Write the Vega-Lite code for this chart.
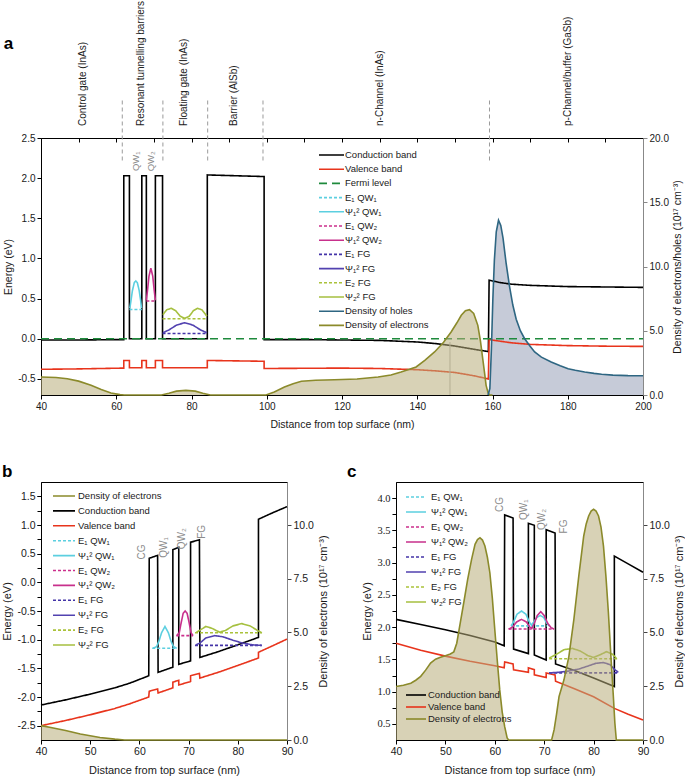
{
 "$schema": "https://vega.github.io/schema/vega-lite/v6.json",
 "padding": {"left": 1, "top": 0, "right": 2, "bottom": 0},
 "spacing": 32,
 "resolve": {"scale": {"color": "independent", "strokeDash": "independent", "stroke": "independent"}},
 "config": {
  "font": "Liberation Sans",
  "view": {"stroke": "#000", "strokeWidth": 1},
  "locale": {"number": {"decimal": ".", "thousands": ",", "grouping": [3], "currency": ["$", ""], "minus": "-"}},
  "axis": {"grid": false, "labelFont": "Liberation Sans", "labelFontSize": 10, "labelColor": "#1a1a1a", "titleFont": "Liberation Sans", "titleFontSize": 10.5, "titleFontWeight": "normal", "titleColor": "#1a1a1a", "tickColor": "#000", "domainColor": "#000", "tickSize": 4, "labelFlush": false, "labelOverlap": false, "labelPadding": 2},
  "title": {"font": "Liberation Sans", "fontSize": 17, "fontWeight": "bold", "anchor": "start", "frame": "bounds", "color": "#000"},
  "legend": {"labelFont": "Liberation Sans", "labelColor": "#1a1a1a", "labelLimit": 250, "padding": 0, "title": null},
  "text": {"font": "Liberation Sans"}
 },
 "datasets": {
  "aL": [
   {"s":"Conduction band","x":40,"y":-0.015},{"s":"Conduction band","x":50,"y":-0.015},{"s":"Conduction band","x":62,"y":-0.01},{"s":"Conduction band","x":62,"y":2.03},{"s":"Conduction band","x":63.5,"y":2.03},{"s":"Conduction band","x":63.5,"y":0},{"s":"Conduction band","x":66.8,"y":0},{"s":"Conduction band","x":66.8,"y":2.03},{"s":"Conduction band","x":68,"y":2.03},{"s":"Conduction band","x":68,"y":0},{"s":"Conduction band","x":70.4,"y":0},{"s":"Conduction band","x":70.4,"y":2.03},{"s":"Conduction band","x":72.3,"y":2.03},{"s":"Conduction band","x":72.3,"y":0},{"s":"Conduction band","x":84.2,"y":0},{"s":"Conduction band","x":84.2,"y":2.04},{"s":"Conduction band","x":99.3,"y":2.02},{"s":"Conduction band","x":99.3,"y":-0.01},{"s":"Conduction band","x":110,"y":-0.01},{"s":"Conduction band","x":120,"y":-0.015},{"s":"Conduction band","x":130,"y":-0.02},{"s":"Conduction band","x":140,"y":-0.04},{"s":"Conduction band","x":145,"y":-0.06},{"s":"Conduction band","x":150,"y":-0.09},{"s":"Conduction band","x":155,"y":-0.13},{"s":"Conduction band","x":158.9,"y":-0.16},{"s":"Conduction band","x":159.1,"y":0.73},{"s":"Conduction band","x":160,"y":0.72},{"s":"Conduction band","x":162,"y":0.7},{"s":"Conduction band","x":165,"y":0.68},{"s":"Conduction band","x":170,"y":0.665},{"s":"Conduction band","x":180,"y":0.65},{"s":"Conduction band","x":190,"y":0.645},{"s":"Conduction band","x":200,"y":0.64},
   {"s":"Valence band","x":40,"y":-0.38},{"s":"Valence band","x":50,"y":-0.375},{"s":"Valence band","x":62,"y":-0.365},{"s":"Valence band","x":62,"y":-0.27},{"s":"Valence band","x":63.5,"y":-0.27},{"s":"Valence band","x":63.5,"y":-0.36},{"s":"Valence band","x":66.8,"y":-0.36},{"s":"Valence band","x":66.8,"y":-0.27},{"s":"Valence band","x":68,"y":-0.27},{"s":"Valence band","x":68,"y":-0.36},{"s":"Valence band","x":70.4,"y":-0.36},{"s":"Valence band","x":70.4,"y":-0.27},{"s":"Valence band","x":72.3,"y":-0.27},{"s":"Valence band","x":72.3,"y":-0.36},{"s":"Valence band","x":84.2,"y":-0.36},{"s":"Valence band","x":84.2,"y":-0.27},{"s":"Valence band","x":99.3,"y":-0.28},{"s":"Valence band","x":99.3,"y":-0.37},{"s":"Valence band","x":120,"y":-0.365},{"s":"Valence band","x":130,"y":-0.37},{"s":"Valence band","x":140,"y":-0.385},{"s":"Valence band","x":145,"y":-0.4},{"s":"Valence band","x":150,"y":-0.42},{"s":"Valence band","x":155,"y":-0.46},{"s":"Valence band","x":158.9,"y":-0.5},{"s":"Valence band","x":159.1,"y":-0.01},{"s":"Valence band","x":162,"y":-0.03},{"s":"Valence band","x":165,"y":-0.05},{"s":"Valence band","x":170,"y":-0.07},{"s":"Valence band","x":180,"y":-0.085},{"s":"Valence band","x":190,"y":-0.092},{"s":"Valence band","x":200,"y":-0.095},
   {"s":"Fermi level","x":40,"y":0},{"s":"Fermi level","x":200,"y":0},
   {"s":"E₁ QW₁","x":63.5,"y":0.365},{"s":"E₁ QW₁","x":66.8,"y":0.365},
   {"s":"Ψ₁² QW₁","x":63.6,"y":0.38},{"s":"Ψ₁² QW₁","x":63.9,"y":0.47},{"s":"Ψ₁² QW₁","x":64.3,"y":0.6},{"s":"Ψ₁² QW₁","x":64.8,"y":0.7},{"s":"Ψ₁² QW₁","x":65.2,"y":0.72},{"s":"Ψ₁² QW₁","x":65.6,"y":0.7},{"s":"Ψ₁² QW₁","x":66.1,"y":0.6},{"s":"Ψ₁² QW₁","x":66.5,"y":0.47},{"s":"Ψ₁² QW₁","x":66.7,"y":0.38},
   {"s":"E₁ QW₂","x":68,"y":0.47},{"s":"E₁ QW₂","x":70.4,"y":0.47},
   {"s":"Ψ₁² QW₂","x":68,"y":0.48},{"s":"Ψ₁² QW₂","x":68.3,"y":0.6},{"s":"Ψ₁² QW₂","x":68.7,"y":0.78},{"s":"Ψ₁² QW₂","x":69.2,"y":0.88},{"s":"Ψ₁² QW₂","x":69.7,"y":0.78},{"s":"Ψ₁² QW₂","x":70.1,"y":0.6},{"s":"Ψ₁² QW₂","x":70.4,"y":0.48},
   {"s":"E₁ FG","x":72.3,"y":0.065},{"s":"E₁ FG","x":84.2,"y":0.065},
   {"s":"Ψ₁² FG","x":72.4,"y":0.075},{"s":"Ψ₁² FG","x":74,"y":0.11},{"s":"Ψ₁² FG","x":76,"y":0.17},{"s":"Ψ₁² FG","x":78.2,"y":0.2},{"s":"Ψ₁² FG","x":80.4,"y":0.17},{"s":"Ψ₁² FG","x":82.4,"y":0.11},{"s":"Ψ₁² FG","x":84.1,"y":0.075},
   {"s":"E₂ FG","x":72.3,"y":0.25},{"s":"E₂ FG","x":84.2,"y":0.25},
   {"s":"Ψ₂² FG","x":72.4,"y":0.3},{"s":"Ψ₂² FG","x":73.4,"y":0.36},{"s":"Ψ₂² FG","x":74.6,"y":0.38},{"s":"Ψ₂² FG","x":75.8,"y":0.35},{"s":"Ψ₂² FG","x":77,"y":0.28},{"s":"Ψ₂² FG","x":78.2,"y":0.255},{"s":"Ψ₂² FG","x":79.4,"y":0.28},{"s":"Ψ₂² FG","x":80.5,"y":0.35},{"s":"Ψ₂² FG","x":81.6,"y":0.38},{"s":"Ψ₂² FG","x":82.8,"y":0.36},{"s":"Ψ₂² FG","x":84.1,"y":0.28}
  ],
  "aD": [
   {"s":"Density of electrons","x":40,"d":1.4},{"s":"Density of electrons","x":44,"d":1.36},{"s":"Density of electrons","x":47,"d":1.27},{"s":"Density of electrons","x":50,"d":1.08},{"s":"Density of electrons","x":53.3,"d":0.75},{"s":"Density of electrons","x":56,"d":0.42},{"s":"Density of electrons","x":58.6,"d":0.16},{"s":"Density of electrons","x":61,"d":0.03},{"s":"Density of electrons","x":62.1,"d":0},{"s":"Density of electrons","x":72,"d":0},{"s":"Density of electrons","x":74,"d":0.14},{"s":"Density of electrons","x":76,"d":0.3},{"s":"Density of electrons","x":78.5,"d":0.36},{"s":"Density of electrons","x":81,"d":0.3},{"s":"Density of electrons","x":83,"d":0.14},{"s":"Density of electrons","x":85,"d":0},{"s":"Density of electrons","x":99.8,"d":0},{"s":"Density of electrons","x":102,"d":0.23},{"s":"Density of electrons","x":104.7,"d":0.62},{"s":"Density of electrons","x":107,"d":0.88},{"s":"Density of electrons","x":109.2,"d":1.07},{"s":"Density of electrons","x":113,"d":1.15},{"s":"Density of electrons","x":118,"d":1.19},{"s":"Density of electrons","x":124,"d":1.24},{"s":"Density of electrons","x":129.6,"d":1.4},{"s":"Density of electrons","x":133,"d":1.56},{"s":"Density of electrons","x":135.7,"d":1.79},{"s":"Density of electrons","x":139.7,"d":2.18},{"s":"Density of electrons","x":142,"d":2.7},{"s":"Density of electrons","x":144.6,"d":3.35},{"s":"Density of electrons","x":147,"d":4.1},{"s":"Density of electrons","x":149,"d":4.9},{"s":"Density of electrons","x":150.5,"d":5.6},{"s":"Density of electrons","x":151.7,"d":6.2},{"s":"Density of electrons","x":152.8,"d":6.55},{"s":"Density of electrons","x":153.9,"d":6.64},{"s":"Density of electrons","x":155,"d":6.35},{"s":"Density of electrons","x":156.1,"d":5.42},{"s":"Density of electrons","x":156.8,"d":4.2},{"s":"Density of electrons","x":157.4,"d":2.83},{"s":"Density of electrons","x":157.9,"d":1.7},{"s":"Density of electrons","x":158.3,"d":0.75},{"s":"Density of electrons","x":158.8,"d":0.2},{"s":"Density of electrons","x":159.2,"d":0},{"s":"Density of electrons","x":160,"d":0},
   {"s":"Density of holes","x":158.8,"d":0},{"s":"Density of holes","x":159.3,"d":0.5},{"s":"Density of holes","x":159.7,"d":3.5},{"s":"Density of holes","x":160.1,"d":7.5},{"s":"Density of holes","x":160.5,"d":10.5},{"s":"Density of holes","x":161,"d":12.7},{"s":"Density of holes","x":161.6,"d":13.6},{"s":"Density of holes","x":162.2,"d":13.2},{"s":"Density of holes","x":162.8,"d":12.2},{"s":"Density of holes","x":163.6,"d":10.3},{"s":"Density of holes","x":164.5,"d":8.5},{"s":"Density of holes","x":165.4,"d":7},{"s":"Density of holes","x":166.3,"d":5.9},{"s":"Density of holes","x":167.4,"d":5},{"s":"Density of holes","x":168.5,"d":4.4},{"s":"Density of holes","x":170,"d":3.8},{"s":"Density of holes","x":171.2,"d":3.35},{"s":"Density of holes","x":173,"d":2.95},{"s":"Density of holes","x":175.6,"d":2.57},{"s":"Density of holes","x":178,"d":2.28},{"s":"Density of holes","x":180.1,"d":2.05},{"s":"Density of holes","x":182,"d":1.92},{"s":"Density of holes","x":184.5,"d":1.79},{"s":"Density of holes","x":187,"d":1.68},{"s":"Density of holes","x":189,"d":1.61},{"s":"Density of holes","x":192,"d":1.55},{"s":"Density of holes","x":196,"d":1.51},{"s":"Density of holes","x":200,"d":1.5}
  ],
  "aDiv": [{"x":61.6,"lo":2.22,"hi":2.97},{"x":72.4,"lo":2.22,"hi":2.97},{"x":84.3,"lo":2.22,"hi":2.97},{"x":99,"lo":2.22,"hi":2.97},{"x":159.2,"lo":2.22,"hi":2.97}],
  "aVl": [{"x":148.7,"lo":-0.7,"hi":-0.04}],
  "aReg": [{"label":"Control gate (InAs)","x":51.1},{"label":"Resonant tunnelling barriers","x":66.6},{"label":"Floating gate (InAs)","x":78.1},{"label":"Barrier (AlSb)","x":91.4},{"label":"n-Channel (InAs)","x":130},{"label":"p-Channel/buffer (GaSb)","x":180.1}],
  "aQW": [{"label":"QW₁","x":65.2,"y":2.21},{"label":"QW₂","x":69.3,"y":2.21}],
  "bL": [
   {"s":"Conduction band","x":40,"y":-2.14},{"s":"Conduction band","x":45,"y":-2.05},{"s":"Conduction band","x":50,"y":-1.95},{"s":"Conduction band","x":55,"y":-1.84},{"s":"Conduction band","x":58,"y":-1.76},{"s":"Conduction band","x":61.9,"y":-1.63},{"s":"Conduction band","x":62,"y":0.42},{"s":"Conduction band","x":63.7,"y":0.47},{"s":"Conduction band","x":63.8,"y":-1.57},{"s":"Conduction band","x":66.8,"y":-1.48},{"s":"Conduction band","x":66.8,"y":0.57},{"s":"Conduction band","x":68,"y":0.61},{"s":"Conduction band","x":68,"y":-1.43},{"s":"Conduction band","x":70.4,"y":-1.37},{"s":"Conduction band","x":70.4,"y":0.7},{"s":"Conduction band","x":72.2,"y":0.74},{"s":"Conduction band","x":72.3,"y":-1.31},{"s":"Conduction band","x":76,"y":-1.21},{"s":"Conduction band","x":80,"y":-1.09},{"s":"Conduction band","x":84.2,"y":-0.96},{"s":"Conduction band","x":84.2,"y":1.1},{"s":"Conduction band","x":87,"y":1.21},{"s":"Conduction band","x":90,"y":1.32},
   {"s":"Valence band","x":40,"y":-2.5},{"s":"Valence band","x":45,"y":-2.41},{"s":"Valence band","x":50,"y":-2.31},{"s":"Valence band","x":55,"y":-2.2},{"s":"Valence band","x":58,"y":-2.12},{"s":"Valence band","x":61.9,"y":-2},{"s":"Valence band","x":62,"y":-1.9},{"s":"Valence band","x":63.7,"y":-1.86},{"s":"Valence band","x":63.8,"y":-1.93},{"s":"Valence band","x":66.8,"y":-1.84},{"s":"Valence band","x":66.8,"y":-1.74},{"s":"Valence band","x":68,"y":-1.71},{"s":"Valence band","x":68,"y":-1.79},{"s":"Valence band","x":70.4,"y":-1.73},{"s":"Valence band","x":70.4,"y":-1.63},{"s":"Valence band","x":72.2,"y":-1.59},{"s":"Valence band","x":72.3,"y":-1.67},{"s":"Valence band","x":76,"y":-1.57},{"s":"Valence band","x":80,"y":-1.45},{"s":"Valence band","x":84.2,"y":-1.32},{"s":"Valence band","x":84.2,"y":-1.22},{"s":"Valence band","x":87,"y":-1.11},{"s":"Valence band","x":90,"y":-0.99},
   {"s":"E₁ QW₁","x":62.6,"y":-1.15},{"s":"E₁ QW₁","x":67.6,"y":-1.15},
   {"s":"Ψ₁² QW₁","x":62.8,"y":-1.15},{"s":"Ψ₁² QW₁","x":63.5,"y":-1.12},{"s":"Ψ₁² QW₁","x":64,"y":-1.02},{"s":"Ψ₁² QW₁","x":64.5,"y":-0.88},{"s":"Ψ₁² QW₁","x":65.2,"y":-0.77},{"s":"Ψ₁² QW₁","x":65.9,"y":-0.88},{"s":"Ψ₁² QW₁","x":66.4,"y":-1.02},{"s":"Ψ₁² QW₁","x":66.9,"y":-1.12},{"s":"Ψ₁² QW₁","x":67.6,"y":-1.15},
   {"s":"E₁ QW₂","x":67.5,"y":-0.93},{"s":"E₁ QW₂","x":70.9,"y":-0.93},
   {"s":"Ψ₁² QW₂","x":67.6,"y":-0.93},{"s":"Ψ₁² QW₂","x":68.1,"y":-0.88},{"s":"Ψ₁² QW₂","x":68.5,"y":-0.7},{"s":"Ψ₁² QW₂","x":68.9,"y":-0.54},{"s":"Ψ₁² QW₂","x":69.3,"y":-0.5},{"s":"Ψ₁² QW₂","x":69.7,"y":-0.54},{"s":"Ψ₁² QW₂","x":70.1,"y":-0.7},{"s":"Ψ₁² QW₂","x":70.5,"y":-0.88},{"s":"Ψ₁² QW₂","x":70.9,"y":-0.93},
   {"s":"E₁ FG","x":71.3,"y":-1.1},{"s":"E₁ FG","x":84.9,"y":-1.1},
   {"s":"Ψ₁² FG","x":71.5,"y":-1.09},{"s":"Ψ₁² FG","x":72.3,"y":-1.06},{"s":"Ψ₁² FG","x":73.5,"y":-0.97},{"s":"Ψ₁² FG","x":75.3,"y":-0.93},{"s":"Ψ₁² FG","x":77,"y":-0.95},{"s":"Ψ₁² FG","x":79,"y":-1.01},{"s":"Ψ₁² FG","x":81,"y":-1.06},{"s":"Ψ₁² FG","x":83,"y":-1.09},{"s":"Ψ₁² FG","x":84.8,"y":-1.1},
   {"s":"E₂ FG","x":71.3,"y":-0.88},{"s":"E₂ FG","x":84.9,"y":-0.88},
   {"s":"Ψ₂² FG","x":71.6,"y":-0.87},{"s":"Ψ₂² FG","x":72.4,"y":-0.83},{"s":"Ψ₂² FG","x":73.5,"y":-0.77},{"s":"Ψ₂² FG","x":74.7,"y":-0.8},{"s":"Ψ₂² FG","x":76.3,"y":-0.87},{"s":"Ψ₂² FG","x":77.5,"y":-0.84},{"s":"Ψ₂² FG","x":79,"y":-0.76},{"s":"Ψ₂² FG","x":80.8,"y":-0.72},{"s":"Ψ₂² FG","x":82.5,"y":-0.76},{"s":"Ψ₂² FG","x":84.2,"y":-0.85},{"s":"Ψ₂² FG","x":84.9,"y":-0.88}
  ],
  "bD": [{"s":"Density of electrons","x":40,"d":0.67},{"s":"Density of electrons","x":42,"d":0.58},{"s":"Density of electrons","x":45,"d":0.44},{"s":"Density of electrons","x":48,"d":0.28},{"s":"Density of electrons","x":50,"d":0.2},{"s":"Density of electrons","x":52,"d":0.12},{"s":"Density of electrons","x":55,"d":0.04},{"s":"Density of electrons","x":57,"d":0},{"s":"Density of electrons","x":90,"d":0}],
  "bT": [{"label":"CG","x":60.5,"y":0.53},{"label":"QW₁","x":64.9,"y":0.61},{"label":"QW₂","x":68.7,"y":0.76},{"label":"FG","x":72.8,"y":0.88}],
  "cB": [
   {"b":"Conduction band","x":40,"y":2.12},{"b":"Conduction band","x":45,"y":2.04},{"b":"Conduction band","x":50,"y":1.96},{"b":"Conduction band","x":55,"y":1.87},{"b":"Conduction band","x":60,"y":1.77},{"b":"Conduction band","x":61.9,"y":1.71},{"b":"Conduction band","x":62,"y":3.74},{"b":"Conduction band","x":63.7,"y":3.69},{"b":"Conduction band","x":63.8,"y":1.66},{"b":"Conduction band","x":66.8,"y":1.59},{"b":"Conduction band","x":66.8,"y":3.61},{"b":"Conduction band","x":68,"y":3.58},{"b":"Conduction band","x":68,"y":1.57},{"b":"Conduction band","x":70.4,"y":1.49},{"b":"Conduction band","x":70.4,"y":3.51},{"b":"Conduction band","x":72.2,"y":3.46},{"b":"Conduction band","x":72.3,"y":1.43},{"b":"Conduction band","x":76,"y":1.33},{"b":"Conduction band","x":80,"y":1.21},{"b":"Conduction band","x":84.2,"y":1.08},{"b":"Conduction band","x":84.2,"y":3.1},{"b":"Conduction band","x":87,"y":2.98},{"b":"Conduction band","x":90,"y":2.85},
   {"b":"Valence band","x":40,"y":1.75},{"b":"Valence band","x":45,"y":1.64},{"b":"Valence band","x":50,"y":1.55},{"b":"Valence band","x":55,"y":1.47},{"b":"Valence band","x":60,"y":1.4},{"b":"Valence band","x":61.9,"y":1.37},{"b":"Valence band","x":62,"y":1.46},{"b":"Valence band","x":63.7,"y":1.43},{"b":"Valence band","x":63.8,"y":1.34},{"b":"Valence band","x":66.8,"y":1.3},{"b":"Valence band","x":66.8,"y":1.37},{"b":"Valence band","x":68,"y":1.34},{"b":"Valence band","x":68,"y":1.26},{"b":"Valence band","x":70.4,"y":1.22},{"b":"Valence band","x":70.4,"y":1.29},{"b":"Valence band","x":72.2,"y":1.26},{"b":"Valence band","x":72.3,"y":1.16},{"b":"Valence band","x":76,"y":1.05},{"b":"Valence band","x":80,"y":0.92},{"b":"Valence band","x":84.2,"y":0.74},{"b":"Valence band","x":87,"y":0.65},{"b":"Valence band","x":90,"y":0.56}
  ],
  "cW": [
   {"s":"E₁ QW₁","x":63.3,"y":2.02},{"s":"E₁ QW₁","x":70.5,"y":2.02},
   {"s":"Ψ₁² QW₁","x":63.3,"y":2.02},{"s":"Ψ₁² QW₁","x":63.8,"y":2.08},{"s":"Ψ₁² QW₁","x":64.5,"y":2.2},{"s":"Ψ₁² QW₁","x":65.4,"y":2.25},{"s":"Ψ₁² QW₁","x":66.3,"y":2.2},{"s":"Ψ₁² QW₁","x":67,"y":2.08},{"s":"Ψ₁² QW₁","x":67.4,"y":2.03},{"s":"Ψ₁² QW₁","x":67.9,"y":2.08},{"s":"Ψ₁² QW₁","x":68.5,"y":2.15},{"s":"Ψ₁² QW₁","x":69.2,"y":2.18},{"s":"Ψ₁² QW₁","x":69.9,"y":2.15},{"s":"Ψ₁² QW₁","x":70.5,"y":2.06},{"s":"Ψ₁² QW₁","x":71,"y":2.02},
   {"s":"E₁ QW₂","x":62.8,"y":1.97},{"s":"E₁ QW₂","x":72,"y":1.97},
   {"s":"Ψ₁² QW₂","x":62.8,"y":1.97},{"s":"Ψ₁² QW₂","x":63.6,"y":2},{"s":"Ψ₁² QW₂","x":64.4,"y":2.08},{"s":"Ψ₁² QW₂","x":65.4,"y":2.12},{"s":"Ψ₁² QW₂","x":66.4,"y":2.08},{"s":"Ψ₁² QW₂","x":67.1,"y":2},{"s":"Ψ₁² QW₂","x":67.5,"y":1.98},{"s":"Ψ₁² QW₂","x":68,"y":2.06},{"s":"Ψ₁² QW₂","x":68.6,"y":2.18},{"s":"Ψ₁² QW₂","x":69.3,"y":2.24},{"s":"Ψ₁² QW₂","x":70,"y":2.18},{"s":"Ψ₁² QW₂","x":70.7,"y":2.06},{"s":"Ψ₁² QW₂","x":71.4,"y":1.99},{"s":"Ψ₁² QW₂","x":72,"y":1.97},
   {"s":"E₁ FG","x":71,"y":1.29},{"s":"E₁ FG","x":85,"y":1.29},
   {"s":"Ψ₁² FG","x":71,"y":1.29},{"s":"Ψ₁² FG","x":73,"y":1.3},{"s":"Ψ₁² FG","x":75,"y":1.32},{"s":"Ψ₁² FG","x":77,"y":1.35},{"s":"Ψ₁² FG","x":79,"y":1.4},{"s":"Ψ₁² FG","x":80.5,"y":1.44},{"s":"Ψ₁² FG","x":82,"y":1.45},{"s":"Ψ₁² FG","x":83.3,"y":1.42},{"s":"Ψ₁² FG","x":84.3,"y":1.34},{"s":"Ψ₁² FG","x":85,"y":1.3},
   {"s":"E₂ FG","x":71,"y":1.51},{"s":"E₂ FG","x":85,"y":1.51},
   {"s":"Ψ₂² FG","x":71,"y":1.52},{"s":"Ψ₂² FG","x":72.5,"y":1.58},{"s":"Ψ₂² FG","x":74,"y":1.65},{"s":"Ψ₂² FG","x":75.7,"y":1.67},{"s":"Ψ₂² FG","x":77.3,"y":1.63},{"s":"Ψ₂² FG","x":78.8,"y":1.56},{"s":"Ψ₂² FG","x":80,"y":1.53},{"s":"Ψ₂² FG","x":81.3,"y":1.57},{"s":"Ψ₂² FG","x":82.6,"y":1.62},{"s":"Ψ₂² FG","x":83.8,"y":1.58},{"s":"Ψ₂² FG","x":84.6,"y":1.52}
  ],
  "cD": [
   {"b":"Density of electrons","x":40,"d":2.49},{"b":"Density of electrons","x":41.5,"d":2.55},{"b":"Density of electrons","x":43,"d":2.64},{"b":"Density of electrons","x":44,"d":2.78},{"b":"Density of electrons","x":45,"d":2.96},{"b":"Density of electrons","x":46,"d":3.25},{"b":"Density of electrons","x":47,"d":3.58},{"b":"Density of electrons","x":48,"d":3.76},{"b":"Density of electrons","x":49,"d":3.85},{"b":"Density of electrons","x":50,"d":3.92},{"b":"Density of electrons","x":51,"d":4},{"b":"Density of electrons","x":51.7,"d":4.1},{"b":"Density of electrons","x":52.3,"d":4.5},{"b":"Density of electrons","x":53,"d":5.44},{"b":"Density of electrons","x":53.8,"d":6.5},{"b":"Density of electrons","x":54.5,"d":7.46},{"b":"Density of electrons","x":55.3,"d":8.4},{"b":"Density of electrons","x":56,"d":9.1},{"b":"Density of electrons","x":56.5,"d":9.32},{"b":"Density of electrons","x":57,"d":9.41},{"b":"Density of electrons","x":57.5,"d":9.3},{"b":"Density of electrons","x":58,"d":9.02},{"b":"Density of electrons","x":58.5,"d":8.5},{"b":"Density of electrons","x":59,"d":7.78},{"b":"Density of electrons","x":59.5,"d":6.6},{"b":"Density of electrons","x":60,"d":5.13},{"b":"Density of electrons","x":60.5,"d":3.7},{"b":"Density of electrons","x":61,"d":2.33},{"b":"Density of electrons","x":61.5,"d":1.3},{"b":"Density of electrons","x":62,"d":0.62},{"b":"Density of electrons","x":62.5,"d":0.1},{"b":"Density of electrons","x":62.8,"d":0},{"b":"Density of electrons","x":71.5,"d":0},{"b":"Density of electrons","x":72,"d":0.47},{"b":"Density of electrons","x":72.5,"d":1.2},{"b":"Density of electrons","x":73,"d":2.02},{"b":"Density of electrons","x":74,"d":2.8},{"b":"Density of electrons","x":75,"d":3.89},{"b":"Density of electrons","x":76,"d":5.6},{"b":"Density of electrons","x":77,"d":7.62},{"b":"Density of electrons","x":78,"d":9.49},{"b":"Density of electrons","x":78.5,"d":10.05},{"b":"Density of electrons","x":79,"d":10.42},{"b":"Density of electrons","x":79.5,"d":10.65},{"b":"Density of electrons","x":80,"d":10.73},{"b":"Density of electrons","x":80.5,"d":10.65},{"b":"Density of electrons","x":81,"d":10.42},{"b":"Density of electrons","x":81.5,"d":9.9},{"b":"Density of electrons","x":82,"d":9.02},{"b":"Density of electrons","x":82.5,"d":7.6},{"b":"Density of electrons","x":83,"d":5.91},{"b":"Density of electrons","x":83.5,"d":3.9},{"b":"Density of electrons","x":84,"d":2.02},{"b":"Density of electrons","x":84.3,"d":0.8},{"b":"Density of electrons","x":84.6,"d":0},{"b":"Density of electrons","x":90,"d":0}
  ],
  "cT": [{"label":"CG","x":61.1,"y":3.9},{"label":"QW₁","x":65.9,"y":3.82},{"label":"QW₂","x":69.6,"y":3.67},{"label":"FG","x":74,"y":3.56}]
 },
 "vconcat": [
  {
   "title": {"text": "a", "offset": -52},
   "width": 602, "height": 257,
   "layer": [
    {
     "data": {"name": "aD"},
     "transform": [{"filter": "datum.s == 'Density of holes'"}],
     "mark": {"type": "area", "fill": "#c6cbd8"},
     "encoding": {
      "x": {"field": "x", "type": "quantitative", "scale": {"domain": [40, 200], "nice": false}, "axis": {"orient": "top", "labels": false, "domain": false, "title": null, "values": [50,60,70,80,90,100,110,120,130,140,150,160,170,180,190], "tickSize": -4}},
      "y": {"field": "d", "type": "quantitative", "scale": {"domain": [0, 20], "nice": false}, "axis": null}
     }
    },
    {
     "layer": [
      {
       "data": {"name": "aL"},
       "mark": {"type": "line", "strokeWidth": 1.6},
       "encoding": {
        "x": {"field": "x", "type": "quantitative", "scale": {"domain": [40, 200], "nice": false}, "axis": {"orient": "bottom", "title": "Distance from top surface (nm)", "values": [40,50,60,70,80,90,100,110,120,130,140,150,160,170,180,190,200], "labelExpr": "datum.value % 20 == 0 ? datum.label : ''", "labelOverlap": false, "titlePadding": 8}},
        "y": {"field": "y", "type": "quantitative", "scale": {"domain": [-0.7, 2.5], "nice": false, "zero": false}, "axis": {"orient": "left", "title": "Energy (eV)", "values": [-0.5,-0.25,0,0.25,0.5,0.75,1,1.25,1.5,1.75,2,2.25,2.5], "labelExpr": "datum.value % 0.5 == 0 ? format(datum.value, '.1f') : ''", "labelOverlap": false}},
        "color": {"field": "s", "type": "nominal", "scale": {"domain": ["Conduction band","Valence band","Fermi level","E₁ QW₁","Ψ₁² QW₁","E₁ QW₂","Ψ₁² QW₂","E₁ FG","Ψ₁² FG","E₂ FG","Ψ₂² FG","Density of holes","Density of electrons"], "range": ["#000000","#e8341c","#1e8a3c","#5ccfe0","#5ccfe0","#cc2f8c","#c8308c","#4434a8","#5242b0","#aac23a","#a6c040","#2e6682","#8b8a2b"]}, "legend": {"orient": "none", "legendX": 277, "legendY": 11, "symbolType": "M-1,0H4", "symbolSize": 100, "symbolStrokeWidth": 1.6, "labelFontSize": 9.5, "labelOffset": 15, "rowPadding": 3.2}},
        "strokeDash": {"field": "s", "type": "nominal", "scale": {"domain": ["Conduction band","Valence band","Fermi level","E₁ QW₁","Ψ₁² QW₁","E₁ QW₂","Ψ₁² QW₂","E₁ FG","Ψ₁² FG","E₂ FG","Ψ₂² FG","Density of holes","Density of electrons"], "range": [[1,0],[1,0],[8,5],[3,2],[1,0],[3,2],[1,0],[3,2],[1,0],[3,2],[1,0],[1,0],[1,0]]}, "legend": {"orient": "none", "legendX": 277, "legendY": 11, "symbolType": "M-1,0H4", "symbolSize": 100, "symbolStrokeWidth": 1.6, "labelFontSize": 9.5, "labelOffset": 15, "rowPadding": 3.2}},
        "order": {"value": null}
       }
      },
      {
       "data": {"name": "aDiv"},
       "mark": {"type": "rule", "color": "#9a9a9a", "strokeDash": [4, 3], "strokeWidth": 1},
       "encoding": {
        "x": {"field": "x", "type": "quantitative", "scale": {"domain": [40, 200], "nice": false}},
        "y": {"field": "lo", "type": "quantitative", "scale": {"domain": [-0.7, 2.5], "nice": false, "zero": false}},
        "y2": {"field": "hi"}
       }
      },
      {
       "data": {"name": "aVl"},
       "mark": {"type": "rule", "color": "#b0b0b0", "strokeWidth": 1},
       "encoding": {
        "x": {"field": "x", "type": "quantitative", "scale": {"domain": [40, 200], "nice": false}},
        "y": {"field": "lo", "type": "quantitative", "scale": {"domain": [-0.7, 2.5], "nice": false, "zero": false}},
        "y2": {"field": "hi"}
       }
      },
      {
       "data": {"name": "aReg"},
       "mark": {"type": "text", "angle": 270, "align": "left", "baseline": "middle", "fontSize": 10, "color": "#222"},
       "encoding": {
        "x": {"field": "x", "type": "quantitative", "scale": {"domain": [40, 200], "nice": false}},
        "y": {"datum": 2.65, "type": "quantitative", "scale": {"domain": [-0.7, 2.5], "nice": false, "zero": false}},
        "text": {"field": "label"}
       }
      },
      {
       "data": {"name": "aQW"},
       "mark": {"type": "text", "angle": 270, "align": "center", "baseline": "middle", "fontSize": 9.5, "color": "#8c8c8c"},
       "encoding": {
        "x": {"field": "x", "type": "quantitative", "scale": {"domain": [40, 200], "nice": false}},
        "y": {"field": "y", "type": "quantitative", "scale": {"domain": [-0.7, 2.5], "nice": false, "zero": false}},
        "text": {"field": "label"}
       }
      }
     ]
    },
    {
     "layer": [
      {
       "data": {"name": "aD"},
       "transform": [{"filter": "datum.s == 'Density of electrons'"}],
       "mark": {"type": "area", "fill": "#b8ad7a", "opacity": 0.55},
       "encoding": {
        "x": {"field": "x", "type": "quantitative", "scale": {"domain": [40, 200], "nice": false}, "axis": null},
        "y": {"field": "d", "type": "quantitative", "scale": {"domain": [0, 20], "nice": false}, "axis": {"orient": "right", "title": "Density of electrons/holes (10¹⁷ cm⁻³)", "titleAngle": 270, "titleBaseline": "top", "values": [0,2.5,5,7.5,10,12.5,15,17.5,20], "labelExpr": "datum.value % 5 == 0 ? format(datum.value, '.1f') : ''", "labelOverlap": false, "domainColor": "#888", "tickColor": "#888"}}
       }
      },
      {
       "data": {"name": "aD"},
       "mark": {"type": "line", "strokeWidth": 1.6},
       "encoding": {
        "x": {"field": "x", "type": "quantitative", "scale": {"domain": [40, 200], "nice": false}, "axis": null},
        "y": {"field": "d", "type": "quantitative", "scale": {"domain": [0, 20], "nice": false}},
        "color": {"field": "s", "type": "nominal"},
        "order": {"value": null}
       }
      }
     ]
    }
   ],
   "resolve": {"scale": {"y": "independent"}, "axis": {"x": "independent"}}
  },
  {
   "spacing": 17,
   "resolve": {"scale": {"color": "independent", "strokeDash": "independent", "stroke": "independent"}},
   "hconcat": [
    {
     "title": {"text": "b", "offset": 1},
     "width": 246, "height": 258,
     "layer": [
      {
       "layer": [
        {
         "data": {"name": "bL"},
         "mark": {"type": "line", "strokeWidth": 1.6},
         "encoding": {
          "x": {"field": "x", "type": "quantitative", "scale": {"domain": [40, 90], "nice": false}, "axis": {"title": "Distance from top surface (nm)", "values": [40,45,50,55,60,65,70,75,80,85,90], "labelExpr": "datum.value % 10 == 0 ? datum.label : ''", "labelOverlap": false, "labelFontSize": 10.5, "titleFontSize": 11, "titlePadding": 8}},
          "y": {"field": "y", "type": "quantitative", "scale": {"domain": [-2.75, 1.75], "nice": false, "zero": false}, "axis": {"orient": "left", "title": "Energy (eV)", "values": [-2.5,-2,-1.5,-1,-0.5,0,0.5,1,1.5], "format": ".1f", "labelOverlap": false, "labelFontSize": 10.5, "titleFontSize": 11}},
          "color": {"field": "s", "type": "nominal", "scale": {"domain": ["Density of electrons","Conduction band","Valence band","E₁ QW₁","Ψ₁² QW₁","E₁ QW₂","Ψ₁² QW₂","E₁ FG","Ψ₁² FG","E₂ FG","Ψ₂² FG"], "range": ["#8b8a2b","#000000","#e8341c","#5ccfe0","#5ccfe0","#cc2f8c","#c8308c","#4434a8","#5242b0","#aac23a","#a6c040"]}, "legend": {"orient": "none", "legendX": 11, "legendY": 8, "symbolType": "M-1,0H3.4", "symbolSize": 100, "symbolStrokeWidth": 1.6, "labelFontSize": 9.5, "labelOffset": 14, "rowPadding": 3.9}},
          "strokeDash": {"field": "s", "type": "nominal", "scale": {"domain": ["Density of electrons","Conduction band","Valence band","E₁ QW₁","Ψ₁² QW₁","E₁ QW₂","Ψ₁² QW₂","E₁ FG","Ψ₁² FG","E₂ FG","Ψ₂² FG"], "range": [[1,0],[1,0],[1,0],[3,2],[1,0],[3,2],[1,0],[3,2],[1,0],[3,2],[1,0]]}, "legend": {"orient": "none", "legendX": 11, "legendY": 8, "symbolType": "M-1,0H3.4", "symbolSize": 100, "symbolStrokeWidth": 1.6, "labelFontSize": 9.5, "labelOffset": 14, "rowPadding": 3.9}},
          "order": {"value": null}
         }
        },
        {
         "data": {"name": "bT"},
         "mark": {"type": "text", "angle": 270, "align": "center", "baseline": "middle", "fontSize": 10, "color": "#8c8c8c"},
         "encoding": {
          "x": {"field": "x", "type": "quantitative", "scale": {"domain": [40, 90], "nice": false}},
          "y": {"field": "y", "type": "quantitative", "scale": {"domain": [-2.75, 1.75], "nice": false, "zero": false}, "axis": {"orient": "left", "labels": false, "domain": false, "title": null, "values": [-2.5,-2.25,-2,-1.75,-1.5,-1.25,-1,-0.75,-0.5,-0.25,0,0.25,0.5,0.75,1,1.25,1.5]}},
          "text": {"field": "label"}
         }
        }
       ],
       "resolve": {"axis": {"y": "independent"}}
      },
      {
       "layer": [
        {
         "data": {"name": "bD"},
         "mark": {"type": "area", "fill": "#b8ad7a", "opacity": 0.55},
         "encoding": {
          "x": {"field": "x", "type": "quantitative", "scale": {"domain": [40, 90], "nice": false}},
          "y": {"field": "d", "type": "quantitative", "scale": {"domain": [0, 12], "nice": false}, "axis": {"orient": "right", "title": "Density of electrons (10¹⁷ cm⁻³)", "titleAngle": 270, "titleBaseline": "top", "values": [0,1.25,2.5,3.75,5,6.25,7.5,8.75,10,11.25], "labelExpr": "datum.value % 2.5 == 0 ? format(datum.value, '.1f') : ''", "labelOverlap": false, "labelFontSize": 10.5, "titleFontSize": 11, "domainColor": "#888", "tickColor": "#444"}}
         }
        },
        {
         "data": {"name": "bD"},
         "mark": {"type": "line", "strokeWidth": 1.6},
         "encoding": {
          "x": {"field": "x", "type": "quantitative", "scale": {"domain": [40, 90], "nice": false}},
          "y": {"field": "d", "type": "quantitative", "scale": {"domain": [0, 12], "nice": false}},
          "color": {"field": "s", "type": "nominal"},
          "order": {"value": null}
         }
        }
       ]
      }
     ],
     "resolve": {"scale": {"y": "independent"}}
    },
    {
     "title": {"text": "c", "offset": 1, "dx": -15},
     "width": 247, "height": 258,
     "layer": [
      {
       "layer": [
        {
         "data": {"name": "cB"},
         "mark": {"type": "line", "strokeWidth": 1.6},
         "encoding": {
          "x": {"field": "x", "type": "quantitative", "scale": {"domain": [40, 90], "nice": false}, "axis": {"title": "Distance from top surface (nm)", "values": [40,45,50,55,60,65,70,75,80,85,90], "labelExpr": "datum.value % 10 == 0 ? datum.label : ''", "labelOverlap": false, "labelFontSize": 10.5, "titleFontSize": 11, "titlePadding": 8}},
          "y": {"field": "y", "type": "quantitative", "scale": {"domain": [0.25, 4.25], "nice": false, "zero": false}, "axis": {"orient": "left", "title": "Energy (eV)", "values": [0.5,1,1.5,2,2.5,3,3.5,4], "format": ".1f", "labelOverlap": false, "labelFont": "Liberation Serif", "labelFontSize": 10.5, "titleFontSize": 11}},
          "stroke": {"field": "b", "type": "nominal", "scale": {"domain": ["Conduction band","Valence band","Density of electrons"], "range": ["#000000","#e8341c","#8b8a2b"]}, "legend": {"orient": "none", "legendX": 9, "legendY": 207, "symbolType": "M-1,0H3", "symbolSize": 100, "symbolStrokeWidth": 1.6, "labelFontSize": 9.5, "labelOffset": 11, "rowPadding": 1}},
          "order": {"value": null}
         }
        },
        {
         "data": {"name": "cW"},
         "mark": {"type": "line", "strokeWidth": 1.6},
         "encoding": {
          "x": {"field": "x", "type": "quantitative", "scale": {"domain": [40, 90], "nice": false}},
          "y": {"field": "y", "type": "quantitative", "scale": {"domain": [0.25, 4.25], "nice": false, "zero": false}, "axis": null},
          "color": {"field": "s", "type": "nominal", "scale": {"domain": ["E₁ QW₁","Ψ₁² QW₁","E₁ QW₂","Ψ₁² QW₂","E₁ FG","Ψ₁² FG","E₂ FG","Ψ₂² FG"], "range": ["#5ccfe0","#5ccfe0","#cc2f8c","#c8308c","#4434a8","#5242b0","#aac23a","#a6c040"]}, "legend": {"orient": "none", "legendX": 9, "legendY": 9, "symbolType": "M-1,0H3", "symbolSize": 100, "symbolStrokeWidth": 1.6, "labelFontSize": 9.5, "labelOffset": 14, "rowPadding": 4}},
          "strokeDash": {"field": "s", "type": "nominal", "scale": {"domain": ["E₁ QW₁","Ψ₁² QW₁","E₁ QW₂","Ψ₁² QW₂","E₁ FG","Ψ₁² FG","E₂ FG","Ψ₂² FG"], "range": [[3,2],[1,0],[3,2],[1,0],[3,2],[1,0],[3,2],[1,0]]}, "legend": {"orient": "none", "legendX": 9, "legendY": 9, "symbolType": "M-1,0H3", "symbolSize": 100, "symbolStrokeWidth": 1.6, "labelFontSize": 9.5, "labelOffset": 14, "rowPadding": 4}},
          "order": {"value": null}
         }
        },
        {
         "data": {"name": "cT"},
         "mark": {"type": "text", "angle": 270, "align": "center", "baseline": "middle", "fontSize": 10, "color": "#8c8c8c"},
         "encoding": {
          "x": {"field": "x", "type": "quantitative", "scale": {"domain": [40, 90], "nice": false}},
          "y": {"field": "y", "type": "quantitative", "scale": {"domain": [0.25, 4.25], "nice": false, "zero": false}, "axis": {"orient": "left", "labels": false, "domain": false, "title": null, "values": [0.5,0.75,1,1.25,1.5,1.75,2,2.25,2.5,2.75,3,3.25,3.5,3.75,4]}},
          "text": {"field": "label"}
         }
        }
       ],
       "resolve": {"axis": {"y": "independent"}}
      },
      {
       "layer": [
        {
         "data": {"name": "cD"},
         "mark": {"type": "area", "fill": "#b8ad7a", "opacity": 0.55},
         "encoding": {
          "x": {"field": "x", "type": "quantitative", "scale": {"domain": [40, 90], "nice": false}},
          "y": {"field": "d", "type": "quantitative", "scale": {"domain": [0, 12], "nice": false}, "axis": {"orient": "right", "title": "Density of electrons (10¹⁷ cm⁻³)", "titleAngle": 270, "titleBaseline": "top", "values": [0,1.25,2.5,3.75,5,6.25,7.5,8.75,10,11.25], "labelExpr": "datum.value % 2.5 == 0 ? format(datum.value, '.1f') : ''", "labelOverlap": false, "labelFontSize": 10.5, "titleFontSize": 11, "domainColor": "#888", "tickColor": "#444"}}
         }
        },
        {
         "data": {"name": "cD"},
         "mark": {"type": "line", "strokeWidth": 1.6},
         "encoding": {
          "x": {"field": "x", "type": "quantitative", "scale": {"domain": [40, 90], "nice": false}},
          "y": {"field": "d", "type": "quantitative", "scale": {"domain": [0, 12], "nice": false}},
          "stroke": {"field": "b", "type": "nominal"},
          "order": {"value": null}
         }
        }
       ]
      }
     ],
     "resolve": {"scale": {"y": "independent"}}
    }
   ]
  }
 ]
}
